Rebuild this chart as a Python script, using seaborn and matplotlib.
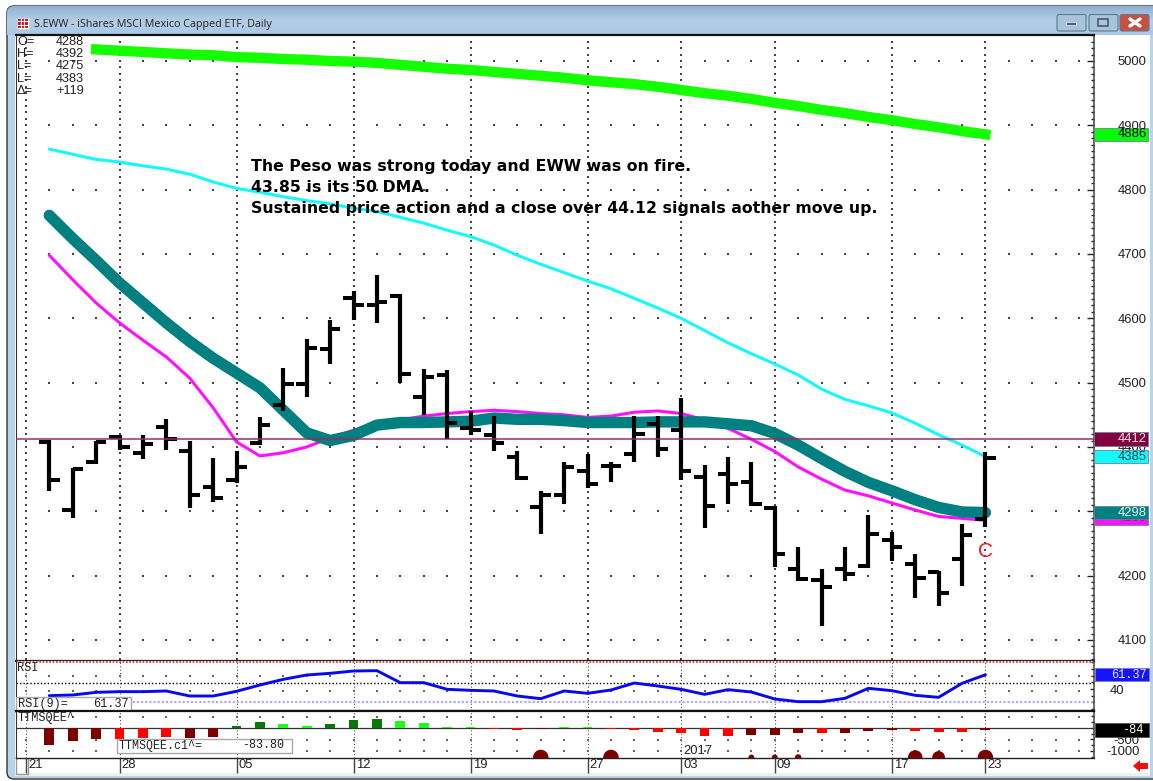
import numpy as np
import pandas as pd
import matplotlib
matplotlib.use("Agg")
import matplotlib.pyplot as plt
import seaborn as sns
from matplotlib.patches import Rectangle, FancyBboxPatch, Polygon
from matplotlib.ticker import MultipleLocator

# daily bars
opens = [4407, 4302, 4376, 4416, 4390, 4431, 4394, 4338, 4348, 4406, 4466, 4498, 4552, 4631,
         4621, 4634, 4478, 4512, 4429, 4419, 4384, 4307, 4325, 4363, 4370, 4389, 4435, 4427,
         4354, 4358, 4346, 4305, 4210, 4193, 4210, 4215, 4255, 4218, 4205, 4226, 4288]
highs = [4411, 4368, 4410, 4419, 4419, 4443, 4409, 4383, 4394, 4447, 4523, 4568, 4598, 4643,
         4667, 4638, 4521, 4520, 4456, 4448, 4394, 4332, 4377, 4389, 4376, 4448, 4448, 4476,
         4372, 4385, 4377, 4309, 4245, 4211, 4245, 4294, 4268, 4233, 4207, 4280, 4392]
lows = [4332, 4289, 4374, 4395, 4381, 4396, 4305, 4314, 4344, 4403, 4456, 4477, 4529, 4597,
        4592, 4499, 4450, 4412, 4419, 4394, 4349, 4264, 4311, 4336, 4345, 4377, 4385, 4349,
        4274, 4311, 4308, 4214, 4191, 4122, 4191, 4212, 4222, 4166, 4153, 4184, 4275]
closes = [4349, 4366, 4407, 4400, 4405, 4412, 4325, 4321, 4369, 4434, 4498, 4554, 4583, 4621,
          4625, 4513, 4509, 4437, 4426, 4406, 4352, 4325, 4369, 4343, 4370, 4420, 4397, 4362,
          4309, 4342, 4311, 4234, 4194, 4183, 4202, 4265, 4245, 4196, 4173, 4263, 4383]

# moving averages
ma_green = [5018, 5016, 5014, 5012, 5010, 5009, 5006, 5005, 5003, 5002, 5000, 4999, 4997, 4994,
            4991, 4988, 4986, 4983, 4980, 4977, 4974, 4970, 4967, 4964, 4960, 4955, 4950, 4946,
            4941, 4935, 4930, 4924, 4919, 4913, 4908, 4902, 4897, 4891, 4886]
ma_cyan = [4863, 4855, 4847, 4843, 4837, 4832, 4824, 4812, 4802, 4796, 4789, 4783, 4778, 4771,
           4766, 4757, 4748, 4737, 4727, 4714, 4698, 4684, 4671, 4658, 4646, 4631, 4616, 4600,
           4581, 4562, 4545, 4529, 4512, 4490, 4474, 4464, 4453, 4437, 4419, 4403, 4385]
ma_teal = [4760, 4724, 4690, 4655, 4624, 4593, 4564, 4538, 4515, 4492, 4457, 4422, 4410, 4418,
           4434, 4438, 4438, 4439, 4440, 4445, 4443, 4443, 4441, 4438, 4438, 4438, 4439, 4439,
           4439, 4436, 4433, 4421, 4403, 4382, 4362, 4345, 4332, 4318, 4306, 4299, 4298]
ma_magenta = [4698, 4660, 4624, 4593, 4566, 4540, 4507, 4461, 4408, 4386, 4391, 4400, 4414, 4426,
              4436, 4442, 4448, 4452, 4455, 4457, 4455, 4452, 4450, 4446, 4448, 4454, 4456, 4452,
              4442, 4429, 4412, 4393, 4369, 4350, 4333, 4324, 4313, 4302, 4292, 4289, 4286]

rsi = [30, 31, 35, 36, 36, 37, 29.5, 29.5, 36.5, 46, 54.5, 61, 63.5, 67, 67.5, 49.5, 49.5, 39.5,
       38, 37, 29.5, 25.5, 37, 33.5, 38.5, 49, 44.5, 39.5, 32, 39, 35.5, 25, 21, 21, 26, 41,
       37.5, 30.5, 27.5, 48.5, 61.37]

ttm = [-754, -580, -507, -480, -450, -420, -435, -390, 58, 232, 145, 100, 145, 320, 362, 275,
       190, 45, 25, -58, -100, -58, 25, 25, -45, -85, -175, -245, -335, -375, -305, -305, -245,
       -245, -245, -130, -85, -130, -175, -175, -84]
ttm_state = ["dn", "dn", "dn", "fall", "fall", "fall", "dn", "dn", "up", "up", "rise", "rise",
             "up", "up", "up", "rise", "rise", "rise", "rise", "fall", "fall", "dn", "rise", "rise",
             "fall", "fall", "fall", "fall", "fall", "fall", "dn", "dn", "dn", "fall", "dn", "dn",
             "dn", "fall", "fall", "fall", "dn"]
squeeze_bars = [21, 24, 30, 31, 32, 37, 38, 40]
squeeze_area = [125, 125, 18, 18, 22, 110, 85, 125]

date_pos = [-1, 3, 8, 13, 18, 23, 27, 31, 36, 40]
date_labels = ["21", "28", "05", "12", "19", "27", "03", "09", "17", "23"]
ohlc_names = ["O=", "H=", "L=", "L=", "\u0394="]
ohlc_values = ["4288", "4392", "4275", "4383", "+119"]
notes = ["The Peso was strong today and EWW was on fire.",
         "43.85 is its 50 DMA.",
         "Sustained price action and a close over 44.12 signals aother move up."]

W, H = 1153, 781
sns.set_theme(style="white")
plt.rcParams["font.family"] = ["Liberation Sans", "DejaVu Sans"]
fig = plt.figure(figsize=(W / 100, H / 100), dpi=100, facecolor="white")


def panel(left, top, right, bottom):
    return fig.add_axes([left / W, 1 - bottom / H, (right - left) / W, (bottom - top) / H])


# window frame, all in pixels
bg = fig.add_axes([0, 0, 1, 1], zorder=-5)
bg.set_xlim(0, W)
bg.set_ylim(H, 0)
bg.axis("off")
frame = FancyBboxPatch((7, 6), W + 10, H - 8, boxstyle="round,pad=0,rounding_size=7",
                       fc="#b9d3ea", ec="#333333", lw=1)
bg.add_patch(frame)
grad = np.linspace(0, 1, 30)[:, None] * np.ones((30, 200))
title_img = bg.imshow(grad, extent=(7, W, 35, 6), cmap=matplotlib.colors.LinearSegmentedColormap.from_list(
    "bar", ["#8fb2d0", "#b4cee6", "#a9c9e8"]), aspect="auto", zorder=1)
title_img.set_clip_path(frame)
bg.set_xlim(0, W)
bg.set_ylim(H, 0)
bg.add_patch(Rectangle((15, 35), W - 18, 741, fc="white", ec="none", zorder=2))
bg.add_patch(Rectangle((15, 773), W - 18, 3, fc="#f0f0f0", ec="none", zorder=2))
bg.add_patch(Rectangle((17, 18), 12, 11, fc="white", ec="#cccccc", lw=0.5, zorder=3))
for ix in range(3):
    for iy in range(3):
        bg.add_patch(Rectangle((18 + ix * 3.7, 19 + iy * 3.3), 2.6, 2.3, fc="#c8202a", ec="none", zorder=4))
bg.text(34, 24, "S.EWW - iShares MSCI Mexico Capped ETF, Daily", family="Open Sans", fontsize=7.75,
        color="#222222", va="center", zorder=5)
for x0, face in [(1057, "#a9c3dc"), (1089, "#a9c3dc"), (1120, "#c4523f")]:
    bg.add_patch(FancyBboxPatch((x0, 14.5), 29, 16.5, boxstyle="round,pad=0,rounding_size=2",
                                fc=face, ec="#5f7890", lw=0.8, zorder=4))
bg.add_patch(Rectangle((1066, 22), 10, 3, fc="#50627a", ec="#e8eef5", lw=0.5, zorder=5))
bg.add_patch(Rectangle((1098, 19), 10, 7, fc="none", ec="#50627a", lw=1.3, zorder=5))
bg.plot([1130, 1140], [19, 26], color="white", lw=2.4, zorder=5)
bg.plot([1130, 1140], [26, 19], color="white", lw=2.4, zorder=5)
bg.add_patch(Rectangle((16, 755), 12, 19, fc="white", ec="#999999", lw=1, zorder=5))
bg.add_patch(Polygon([(1133, 766), (1140, 760), (1140, 763), (1148, 763), (1148, 769), (1140, 769),
                      (1140, 772)], fc="#f01010", ec="none", zorder=5))

main = panel(16, 35, 1094, 661)
rsi_ax = panel(16, 661, 1094, 711)
ttm_ax = panel(16, 711, 1094, 757.5)
xlims = (-1.423, 44.64)

bars = pd.DataFrame({"day": np.arange(len(closes)), "o": opens, "h": highs, "l": lows, "c": closes})

# dotted grid
grid_levels = np.arange(4100, 5001, 100)
gx, gy = np.meshgrid(np.arange(-1, 45), grid_levels)
sns.scatterplot(x=gx.ravel(), y=gy.ravel(), marker="s", s=0.9, color="#444444", linewidth=0, ax=main, zorder=1)
vx, vy = np.meshgrid(date_pos, np.arange(4070, 5040, 10))
sns.scatterplot(x=vx.ravel(), y=vy.ravel(), marker="s", s=0.9, color="#444444", linewidth=0, ax=main, zorder=1)

sns.lineplot(x=np.arange(2, 41), y=ma_green, color="#14ff00", linewidth=7.4, solid_capstyle="projecting",
             ax=main, zorder=2)
sns.lineplot(x=bars["day"], y=ma_cyan, color="#16f8ff", linewidth=2.2, ax=main, zorder=2)
sns.lineplot(x=bars["day"], y=ma_magenta, color="#ff10ff", linewidth=2.2, ax=main, zorder=3)
sns.lineplot(x=bars["day"], y=ma_teal, color="#008080", linewidth=8.2, solid_capstyle="round", ax=main, zorder=4)

main.vlines(bars["day"], bars["l"], bars["h"], color="black", lw=3, zorder=5)
main.hlines(bars["o"], bars["day"] - 0.44, bars["day"], color="black", lw=2.9, zorder=5)
main.hlines(bars["c"], bars["day"], bars["day"] + 0.44, color="black", lw=2.9, zorder=5)
main.axhline(4412, color="#8e2f66", alpha=0.75, lw=1.5, zorder=6)

main.set_xlim(*xlims)
main.set_ylim(4067.3, 5040.4)
main.text(40, 4238, "C", color="#f01818", fontsize=15, ha="center", va="center", zorder=7)

main.yaxis.tick_right()
main.yaxis.set_major_locator(MultipleLocator(100))
main.yaxis.set_minor_locator(MultipleLocator(10))
main.tick_params(axis="y", which="major", direction="in", length=5, width=1, color="#222222", pad=17.3,
                 labelsize=9.4, labelcolor="#222222", right=True)
main.tick_params(axis="y", which="minor", direction="in", length=2.2, width=1, color="#222222", right=True)
main.set_xticks([])
main.set_xlabel("")
main.set_ylabel("")

for i, (name, val) in enumerate(zip(ohlc_names, ohlc_values)):
    yy = 42 + i * 12.2
    main.text(17, yy, name, transform=bg.transData, fontsize=9.2, va="center", color="#222222", zorder=8)
    main.text(84, yy, val, transform=bg.transData, fontsize=9.2, ha="right", va="center", color="#222222", zorder=8)
for yy, line in zip([166, 187, 209], notes):
    main.text(251, yy, line, transform=bg.transData, family="DejaVu Sans", fontweight="bold", fontsize=11.37,
              color="black", va="center", zorder=8)

# value flags on the price scale
flags = [(4289, "#ff10ff", "#7a2a7a", 3), (4886, "#00ff00", "black", 4), (4412, "#800040", "#f0d8e0", 4),
         (4385, "#16f8ff", "#1a4a50", 4), (4298, "#008080", "#e8f4f4", 5)]
ytrans = main.get_yaxis_transform()
for val, face, tcol, z in flags:
    main.add_patch(Rectangle((1.0, val - 10.5), 0.0505, 21, transform=ytrans, fc=face, ec="#708090", lw=0.6,
                             clip_on=False, zorder=z + 5))
    main.text(1.0487, val, str(val), transform=ytrans, ha="right", va="center", fontsize=9.4, color=tcol,
              clip_on=False, zorder=z + 5.5)

# RSI panel
for ax in (rsi_ax, ttm_ax):
    ax.vlines(date_pos, 0, 1, transform=ax.get_xaxis_transform(), color="#333333", lw=0.7,
              linestyles=(0, (1, 2.5)), zorder=1)
rsi_ax.axhline(80.2, color="#e02020", lw=1.2, ls=(0, (1, 1)), zorder=2)
rsi_ax.axhline(48.5, color="black", lw=1, ls=(0, (1, 1.5)), zorder=2)
rsi_ax.axhline(20, color="#a8a8ff", lw=1.5, ls=(0, (1, 1)), zorder=2)
rx, ry = np.meshgrid(np.arange(-1, 45), [60, 37.5])
sns.scatterplot(x=rx.ravel(), y=ry.ravel(), marker="s", s=0.9, color="#666666", linewidth=0, ax=rsi_ax, zorder=1)
sns.lineplot(x=bars["day"], y=rsi, color="#0808f0", linewidth=2.1, ax=rsi_ax, zorder=3)
rsi_ax.set_xlim(*xlims)
rsi_ax.set_ylim(7, 82)
rsi_ax.set_xticks([])
rsi_ax.set_xlabel("")
rsi_ax.yaxis.tick_right()
rsi_ax.set_yticks([40])
rsi_ax.yaxis.set_minor_locator(MultipleLocator(10))
rsi_ax.tick_params(axis="y", which="major", direction="in", length=3, width=1, color="#222222", pad=11.5,
                   labelsize=9.4, labelcolor="#222222", right=True)
rsi_ax.tick_params(axis="y", which="minor", direction="in", length=2.2, width=1, color="#222222", right=True)
rsi_trans = rsi_ax.get_yaxis_transform()
rsi_ax.add_patch(Rectangle((1.0005, 61.37 - 9.4), 0.0505, 19, transform=rsi_trans, fc="#1414ff", ec="#7878d0",
                           lw=0.6, clip_on=False, zorder=6))
rsi_ax.text(1.0487, 61.37, "61.37", transform=rsi_trans, ha="right", va="center", family="Liberation Mono",
            fontsize=8.6, color="#e8e8ff", clip_on=False, zorder=7)
rsi_ax.text(17, 668, "RSI", transform=bg.transData, family="Liberation Mono", fontsize=8.6, va="center",
            color="#222222", zorder=7)
rsi_ax.add_patch(Rectangle((16, 697), 115, 14, transform=bg.transData, fc="white", ec="#aaaaaa", lw=1, zorder=6))
rsi_ax.text(18, 704, "RSI(9)=", transform=bg.transData, family="Liberation Mono", fontsize=8.6, va="center",
            color="#222222", zorder=7)
rsi_ax.text(129, 704, "61.37", transform=bg.transData, family="Liberation Mono", fontsize=8.6, ha="right",
            va="center", color="#222222", zorder=7)

# TTM squeeze panel
tx, ty = np.meshgrid(np.arange(-1, 45), [480, -520, -1020])
sns.scatterplot(x=tx.ravel(), y=ty.ravel(), marker="s", s=0.9, color="#666666", linewidth=0, ax=ttm_ax, zorder=1)
sns.barplot(x=bars["day"], y=ttm, hue=ttm_state, palette={"dn": "#7b0000", "fall": "#ff0000", "up": "#087808",
                                                          "rise": "#18ff18"},
            native_scale=True, dodge=False, width=0.42, saturation=1, errorbar=None, legend=False,
            edgecolor="none", linewidth=0, ax=ttm_ax, zorder=3)
ttm_ax.axhline(0, color="#333333", lw=0.9, zorder=2)
ttm_ax.set_xlim(*xlims)
ttm_ax.set_ylim(-1292, 731)
ttm_ax.scatter(squeeze_bars, [-1292] * len(squeeze_bars), s=squeeze_area, color="#7b0000", linewidth=0, zorder=4)
ttm_ax.set_xticks(date_pos)
ttm_ax.set_xticklabels([])
ttm_ax.set_xlabel("")
ttm_ax.tick_params(axis="x", direction="out", length=11, width=1, color="#444444", bottom=True)
for pos, lab in zip(date_pos, date_labels):
    ttm_ax.annotate(lab, (pos, 0), xycoords=ttm_ax.get_xaxis_transform(), xytext=(2, -8), textcoords="offset pixels",
                    fontsize=9.4, color="#222222", va="center", ha="left", annotation_clip=False)
ttm_ax.yaxis.tick_right()
ttm_ax.set_yticks([-500, -1000])
ttm_ax.set_yticklabels(["-500", "-1000"], ha="right")
ttm_ax.yaxis.set_minor_locator(MultipleLocator(250))
ttm_ax.tick_params(axis="y", which="major", direction="in", length=3, width=1, color="#222222", pad=33,
                   labelsize=9.4, labelcolor="#222222", right=True)
ttm_ax.tick_params(axis="y", which="minor", direction="in", length=2.2, width=1, color="#222222", right=True)
ttm_trans = ttm_ax.get_yaxis_transform()
ttm_ax.add_patch(Rectangle((1.0005, -84 - 300), 0.0505, 600, transform=ttm_trans, fc="black", ec="#555555",
                           lw=0.6, clip_on=False, zorder=6))
ttm_ax.text(1.046, -84, "-84", transform=ttm_trans, ha="right", va="center", family="Liberation Mono",
            fontsize=8.6, color="white", clip_on=False, zorder=7)
ttm_ax.text(683, 751, "2017", transform=bg.transData, fontsize=9.4, va="center", color="#222222", zorder=7)
ttm_ax.text(18, 718, "TTMSQEE^", transform=bg.transData, family="Liberation Mono", fontsize=8.6, va="center",
            color="#222222", zorder=7)
ttm_ax.add_patch(Rectangle((117, 738.5), 175, 14, transform=bg.transData, fc="white", ec="#aaaaaa", lw=1, zorder=6))
ttm_ax.text(119, 745.5, "TTMSQEE.c1^=", transform=bg.transData, family="Liberation Mono", fontsize=8.4, va="center",
            color="#222222", zorder=7)
ttm_ax.text(284, 745.5, "-83.80", transform=bg.transData, family="Liberation Mono", fontsize=8.4, ha="right",
            va="center", color="#222222", zorder=7)

# spines
for ax, top_w, bottom_w in [(main, 1.6, 1.6), (rsi_ax, 0, 1.6), (ttm_ax, 1.6, 1)]:
    ax.set_facecolor("white")
    ax.spines["top"].set(linewidth=top_w, color="#111111", visible=top_w > 0)
    ax.spines["bottom"].set(linewidth=bottom_w, color="#222222")
    ax.spines["left"].set(linewidth=0.8, color="#333333")
    ax.spines["right"].set(linewidth=1.1, color="#444444")

fig.savefig("out.png", dpi=100)
